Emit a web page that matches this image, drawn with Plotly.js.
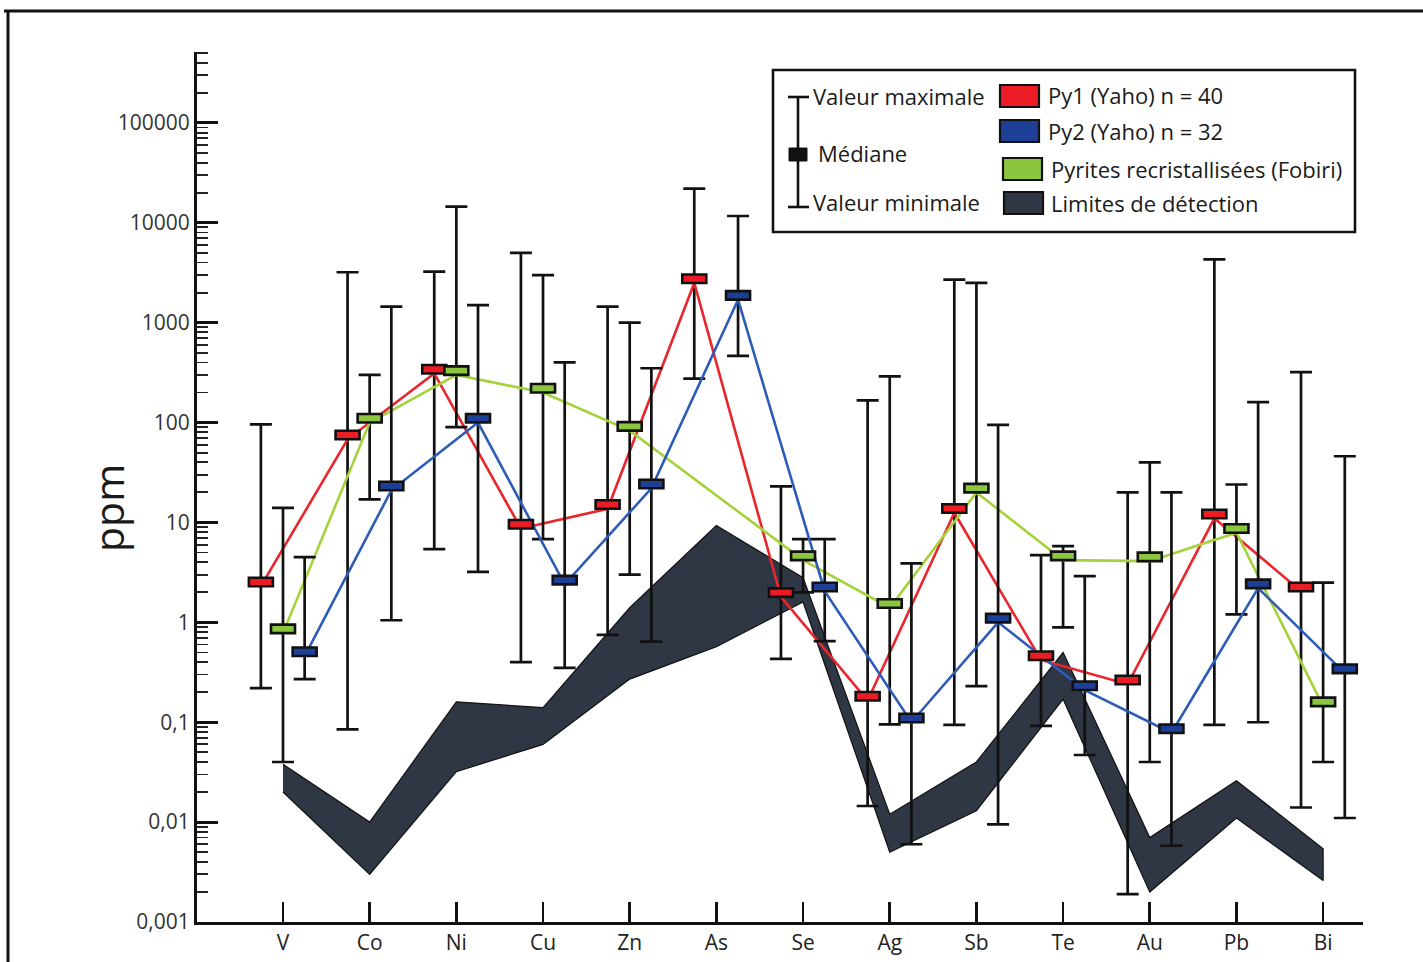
<!DOCTYPE html>
<html>
<head>
<meta charset="utf-8">
<script src="https://cdn.plot.ly/plotly-3.0.1.min.js"></script>
<style>html,body{margin:0;padding:0;background:#fff;}#chart{width:1423px;height:962px;}</style>
</head>
<body>
<div id="chart"></div>
<script>
// ---- data (ppm) ----
const elements = ['V','Co','Ni','Cu','Zn','As','Se','Ag','Sb','Te','Au','Pb','Bi'];

const py1Median = [2.3, 68, 310, 8.7, 13.7, 2500, 1.8, 0.165, 12.5, 0.42, 0.24, 11, 2.05];
const py1Max    = [96, 3200, 3250, 5000, 1450, 22000, 23, 167, 2700, 4.7, 20, 4300, 320];
const py1Min    = [0.22, 0.085, 5.4, 0.4, 0.75, 275, 0.43, 0.0145, 0.094, 0.092, 0.0019, 0.094, 0.014];

const py2Median = [0.46, 21, 100, 2.4, 22, 1700, 2.05, 0.1, 1.0, 0.21, 0.078, 2.2, 0.31];
const py2Max    = [4.5, 1450, 1500, 400, 350, 11700, 6.8, 3.9, 95, 2.9, 20, 160, 46];
const py2Min    = [0.27, 1.05, 3.2, 0.35, 0.64, 465, 0.65, 0.006, 0.0095, 0.047, 0.0058, 0.1, 0.011];

const fobMedian = [0.78, 100, 300, 200, 83, null, 4.2, 1.4, 20, 4.2, 4.1, 7.9, 0.145];
const fobMax    = [14, 300, 14500, 3000, 1000, null, 6.8, 290, 2500, 5.8, 40, 24, 2.5];
const fobMin    = [0.04, 17, 90, 6.8, 3, null, 2.0, 0.095, 0.23, 0.89, 0.04, 1.2, 0.04];

const detTop    = [0.038, 0.01, 0.16, 0.14, 1.4, 9.3, 2.8, 0.012, 0.04, 0.5, 0.007, 0.026, 0.0054];
const detBottom = [0.02, 0.003, 0.032, 0.06, 0.27, 0.57, 1.6, 0.005, 0.013, 0.17, 0.002, 0.011, 0.0026];

const yTickVals = [0.001, 0.01, 0.1, 1, 10, 100, 1000, 10000, 100000];
const yTickText = ['0,001', '0,01', '0,1', '1', '10', '100', '1000', '10000', '100000'];

// ---- styling ----
const FONT = '"Open Sans", Lato, sans-serif';
const series = [
  {name:'Py1 (Yaho) n = 40', med:py1Median, max:py1Max, min:py1Min, off:-0.255, line:'#e8262c', fill:'#ec1c24'},
  {name:'Pyrites recristallisées (Fobiri)', med:fobMedian, max:fobMax, min:fobMin, off:0, line:'#a4d23a', fill:'#8cc63f'},
  {name:'Py2 (Yaho) n = 32', med:py2Median, max:py2Max, min:py2Min, off:0.25, line:'#2c5cb8', fill:'#1d3f98'}
];
const BAND = '#2e3743';

const idx = elements.map((_, i) => i);
const traces = [];

// detection-limit band
traces.push({
  type:'scatter', mode:'lines', name:'Limites de détection', showlegend:false, hoverinfo:'skip',
  x: idx.concat(idx.slice().reverse()),
  y: detTop.concat(detBottom.slice().reverse()),
  fill:'toself', fillcolor:BAND, line:{color:'#111', width:1.2}
});

series.forEach(s => {
  traces.push({
    type:'scatter', mode:'lines', name:s.name, showlegend:false, connectgaps:true,
    x: idx.map(i => i + s.off), y: s.med,
    line:{color:s.line, width:2.6},
    error_y:{type:'data', symmetric:false, visible:true,
      array: s.med.map((m, i) => m == null ? null : s.max[i] - m),
      arrayminus: s.med.map((m, i) => m == null ? null : m - s.min[i]),
      color:'#111', thickness:2.7, width:11}
  });
});

// median markers as small rectangles anchored on data values
const shapes = [];
series.forEach(s => {
  s.med.forEach((m, i) => {
    if (m == null) return;
    shapes.push({type:'rect', xref:'x', yref:'y', xsizemode:'pixel', ysizemode:'pixel',
      xanchor: i + s.off, yanchor: m, x0:-12, x1:12, y0:-8.5, y1:8.5,
      fillcolor:s.fill, line:{color:'#111', width:2.6}, layer:'above'});
  });
});

// pixel -> paper helpers (plot area 197..1363 x 52..922)
const L = 197, T = 52, W = 1166, H = 870;
const PX = p => (p - L) / W;
const PY = p => (T + H - p) / H;

// outer frame
shapes.push({type:'line', xref:'paper', yref:'paper', x0:PX(4), x1:PX(1423), y0:PY(11), y1:PY(11), line:{color:'#111', width:3}});
shapes.push({type:'line', xref:'paper', yref:'paper', x0:PX(8), x1:PX(8), y0:PY(11), y1:PY(962), line:{color:'#111', width:3}});

// legend box
shapes.push({type:'rect', xref:'paper', yref:'paper', x0:PX(773), x1:PX(1355), y0:PY(232), y1:PY(70),
  fillcolor:'#fff', line:{color:'#111', width:2.6}, layer:'above'});
// legend glyph: error bar with median
shapes.push({type:'line', xref:'paper', yref:'paper', x0:PX(798), x1:PX(798), y0:PY(97), y1:PY(207), line:{color:'#111', width:2.6}});
shapes.push({type:'line', xref:'paper', yref:'paper', x0:PX(788), x1:PX(809), y0:PY(97), y1:PY(97), line:{color:'#111', width:2.6}});
shapes.push({type:'line', xref:'paper', yref:'paper', x0:PX(788), x1:PX(809), y0:PY(207), y1:PY(207), line:{color:'#111', width:2.6}});
shapes.push({type:'rect', xref:'paper', yref:'paper', x0:PX(789), x1:PX(807), y0:PY(161), y1:PY(148), fillcolor:'#111', line:{color:'#111', width:1}});
// legend colour patches
const patches = [
  {y0:85, y1:107, x0:1000, color:'#ec1c24'},
  {y0:120, y1:142, x0:1000, color:'#1d3f98'},
  {y0:158, y1:180, x0:1003, color:'#8cc63f'},
  {y0:192, y1:214, x0:1004, color:BAND}
];
patches.forEach(p => shapes.push({type:'rect', xref:'paper', yref:'paper', x0:PX(p.x0), x1:PX(p.x0 + 39), y0:PY(p.y1), y1:PY(p.y0),
  fillcolor:p.color, line:{color:'#111', width:2.2}, layer:'above'}));

const ann = [];
const legText = [
  {t:'Valeur maximale', x:811, y:96},
  {t:'Médiane', x:816, y:153},
  {t:'Valeur minimale', x:811, y:202},
  {t:'Py1 (Yaho) n = 40', x:1046, y:95},
  {t:'Py2 (Yaho) n = 32', x:1046, y:131},
  {t:'Pyrites recristallisées (Fobiri)', x:1049, y:169},
  {t:'Limites de détection', x:1049, y:203}
];
legText.forEach(a => ann.push({xref:'paper', yref:'paper', x:PX(a.x), y:PY(a.y), xanchor:'left', yanchor:'middle',
  text:a.t, showarrow:false, font:{family:FONT, size:22, color:'#1a1a1a'}}));
// y axis title
ann.push({xref:'paper', yref:'paper', x:PX(108), y:PY(508), xanchor:'center', yanchor:'middle', textangle:-90,
  text:'ppm', showarrow:false, font:{family:FONT, size:41, color:'#1a1a1a'}});

// minor log ticks
const minorVals = [];
for (let k = -3; k <= 5; k++) for (let m = 2; m <= 9; m++) minorVals.push(m * Math.pow(10, k));

const layout = {
  width:1423, height:962,
  margin:{l:L, r:1423 - L - W, t:T, b:962 - T - H},
  paper_bgcolor:'#fff', plot_bgcolor:'#fff',
  showlegend:false,
  font:{family:FONT, color:'#222'},
  xaxis:{
    range:[-0.992, 12.46], tickmode:'array', tickvals:idx, ticktext:elements,
    ticks:'inside', ticklen:20, tickwidth:2.6, tickcolor:'#111',
    showline:true, linecolor:'#111', linewidth:3, showgrid:false, zeroline:false,
    tickfont:{family:FONT, size:21, color:'#222'}
  },
  yaxis:{
    type:'log', range:[-3, 5.71], tickmode:'array', tickvals:yTickVals, ticktext:yTickText,
    ticks:'inside', ticklen:21, tickwidth:3, tickcolor:'#111',
    showline:true, linecolor:'#111', linewidth:3, showgrid:false, zeroline:false,
    tickfont:{family:FONT, size:21, color:'#333'},
    minor:{tickmode:'array', tickvals:minorVals, ticks:'inside', ticklen:11, tickwidth:1.8, tickcolor:'#222', showgrid:false}
  },
  shapes:shapes,
  annotations:ann
};

Plotly.newPlot('chart', traces, layout, {displayModeBar:false, staticPlot:true});
</script>
</body>
</html>
